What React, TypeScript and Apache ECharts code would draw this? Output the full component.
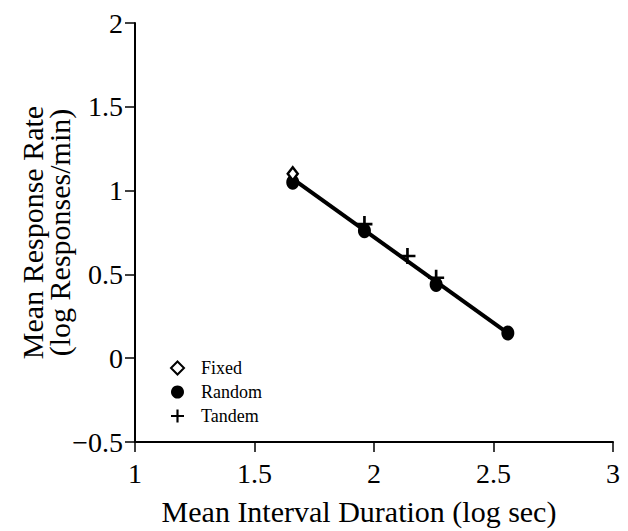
import React, { useEffect, useRef } from "react";
import * as echarts from "echarts";

const fixedX = [1.66];
const fixedY = [1.1];
const randomX = [1.66, 1.96, 2.26, 2.56];
const randomY = [1.05, 0.76, 0.44, 0.15];
const tandemX = [1.96, 2.14, 2.26];
const tandemY = [0.8, 0.61, 0.48];
const fitX = [1.66, 2.56];
const fitY = [1.07, 0.15];
const xTicks = [1, 1.5, 2, 2.5, 3];
const yTicks = [-0.5, 0, 0.5, 1, 1.5, 2];

const FONT = "'Liberation Serif', 'DejaVu Serif', serif";
const PLUS = "path://M5,0h2v5h5v2h-5v5h-2v-5h-5v-2h5z";

const zip = (xs: number[], ys: number[]) => xs.map((x, i) => [x, ys[i]]);

export default function App() {
  const ref = useRef<HTMLDivElement>(null);
  useEffect(() => {
    if (!ref.current) return;
    const chart = echarts.init(ref.current, null, { renderer: "svg" });
    const fmt = (v: number) => {
      const s = String(v);
      return v < 0 ? "\u2212" + s.slice(1) : s;
    };
    chart.setOption({
      animation: false,
      backgroundColor: "#ffffff",
      grid: { left: 135, right: 15, top: 23, bottom: 82, containLabel: false },
      legend: {
        orient: "vertical",
        left: 165,
        top: 354,
        itemWidth: 13,
        itemHeight: 13,
        itemGap: 6,
        data: ["Fixed", "Random", "Tandem"],
        textStyle: { fontFamily: FONT, fontSize: 18, color: "#000", padding: [0, 0, 0, 12] },
      },
      xAxis: {
        type: "value",
        min: xTicks[0],
        max: xTicks[xTicks.length - 1],
        interval: 0.5,
        name: "Mean Interval Duration (log sec)",
        nameLocation: "middle",
        nameGap: 54,
        nameMoveOverlap: false,
        nameTextStyle: { fontFamily: FONT, fontSize: 30, color: "#000", padding: [0, 30, 0, 0] },
        axisLine: { show: true, onZero: false, lineStyle: { color: "#000", width: 2 } },
        axisTick: { show: true, inside: false, length: 10, lineStyle: { color: "#000", width: 1.5 } },
        axisLabel: { fontFamily: FONT, fontSize: 28, color: "#000", margin: 17, formatter: fmt },
        splitLine: { show: false },
      },
      yAxis: {
        type: "value",
        min: yTicks[0],
        max: yTicks[yTicks.length - 1],
        interval: 0.5,
        name: "Mean Response Rate\n(log Responses/min)",
        nameLocation: "middle",
        nameRotate: 90,
        nameGap: 62,
        nameMoveOverlap: false,
        nameTextStyle: { fontFamily: FONT, fontSize: 30, color: "#000", lineHeight: 27 },
        axisLine: { show: true, onZero: false, lineStyle: { color: "#000", width: 2 } },
        axisTick: { show: true, inside: false, length: 10, lineStyle: { color: "#000", width: 1.5 } },
        axisLabel: { fontFamily: FONT, fontSize: 28, color: "#000", margin: 12, formatter: fmt },
        splitLine: { show: false },
      },
      series: [
        {
          name: "fit",
          type: "line",
          data: zip(fitX, fitY),
          symbol: "none",
          lineStyle: { color: "#000", width: 4 },
          z: 1,
        },
        {
          name: "Random",
          type: "scatter",
          data: zip(randomX, randomY),
          symbol: "circle",
          symbolSize: [13, 15],
          itemStyle: { color: "#000", opacity: 1 },
          z: 2,
        },
        {
          name: "Tandem",
          type: "scatter",
          data: zip(tandemX, tandemY),
          symbol: PLUS,
          symbolSize: 16,
          itemStyle: { color: "#000", opacity: 1 },
          z: 3,
        },
        {
          name: "Fixed",
          type: "scatter",
          data: zip(fixedX, fixedY),
          symbol: "diamond",
          symbolSize: [10, 13],
          itemStyle: { color: "#fff", borderColor: "#000", borderWidth: 2.5, opacity: 1 },
          z: 4,
        },
      ],
    });
    return () => chart.dispose();
  }, []);
  return <div ref={ref} style={{ width: 628, height: 531, position: "absolute", left: 0, top: 0 }} />;
}
